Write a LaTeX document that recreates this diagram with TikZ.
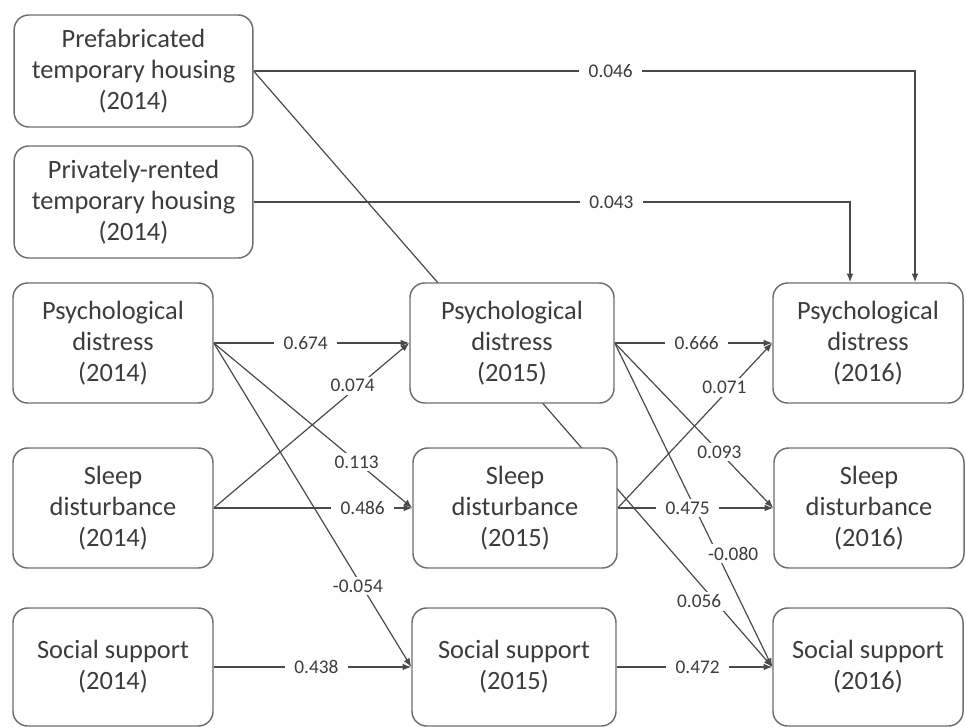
\documentclass[tikz,border=0pt]{standalone}
\usepackage{fontspec}
\setmainfont{Carlito}
\usepackage{tikz}
\usetikzlibrary{arrows.meta,shapes,positioning,backgrounds}

\definecolor{boxgray}{HTML}{6E6E6E}
\definecolor{txtgray}{HTML}{3C3C3C}
\definecolor{linegray}{HTML}{4A4A4A}

\tikzset{
  var/.style={draw=boxgray, line width=1.1pt, rounded corners=11pt, fill=white,
    align=center, text=txtgray, inner sep=0pt,
    font=\fontsize{19.8}{23.25}\selectfont},
  topbox/.style={var, minimum width=179pt, minimum height=84pt},
  leftbox/.style={var, minimum width=150pt, minimum height=90pt},
  midbox/.style={var, minimum width=153pt, minimum height=90pt},
  rightbox/.style={var, minimum width=142.5pt, minimum height=90pt},
  low/.style={minimum height=88.5pt},
  coef/.style={fill=white, text=txtgray, inner xsep=7pt, inner ysep=2pt,
    font=\fontsize{14.5}{17}\selectfont},
  link/.style={draw=linegray, line width=0.9pt, -{Latex[length=6.5pt,width=5pt]}}
}

\begin{document}
\begin{tikzpicture}[x=0.75pt, y=-0.75pt]
\useasboundingbox (0,0) rectangle (966,727);

% 2014
\node[topbox] (prefab) at (133.5,71) {Prefabricated\\temporary housing\\(2014)};
\node[topbox] (private) at (133.5,202) {Privately-rented\\temporary housing\\(2014)};
\node[leftbox] (p14) at (113,343) {Psychological\\distress\\(2014)};
\node[leftbox] (l14) at (113,508) {Sleep\\disturbance\\(2014)};
\node[leftbox, low] (s14) at (113,667) {Social support\\(2014)};

% 2015
\node[midbox] (p15) at (512,343) {Psychological\\distress\\(2015)};
\node[midbox] (l15) at (515,508) {Sleep\\disturbance\\(2015)};
\node[midbox, low] (s15) at (514,667) {Social support\\(2015)};

% 2016
\node[rightbox] (p16) at (868,343) {Psychological\\distress\\(2016)};
\node[rightbox] (l16) at (869,508) {Sleep\\disturbance\\(2016)};
\node[rightbox, low] (s16) at (868,667) {Social support\\(2016)};

\coordinate (inA) at ([xshift=-13.5pt]p16.north);
\coordinate (inB) at ([xshift=35.25pt]p16.north);

\begin{pgfonlayer}{background}
\draw[link] (prefab.east) -| node[coef, pos=0.27] {0.046} (inB);
\draw[link] (private.east) -| node[coef, pos=0.3] {0.043} (inA);
\draw[link] (prefab.east) -- node[coef, pos=0.89, xshift=-12pt] {0.056} (s16.west);

\draw[link] (p14.east) -- node[coef, pos=0.47] {0.674} (p15.west);
\draw[link] (l14.east) -- node[coef, pos=0.71, yshift=4pt] {0.074} (p15.west);
\draw[link] (p14.east) -- node[coef, pos=0.72] {0.113} (l15.west);
\draw[link] (l14.east) -- node[coef, pos=0.75] {0.486} (l15.west);
\draw[link] (p14.east) -- node[coef, pos=0.75, xshift=-3pt] {-0.054} (s15.west);
\draw[link] (s14.east) -- node[coef, pos=0.52] {0.438} (s15.west);

\draw[link] (p15.east) -- node[coef, pos=0.52] {0.666} (p16.west);
\draw[link] (l15.east) -- node[coef, pos=0.69, yshift=5pt] {0.071} (p16.west);
\draw[link] (p15.east) -- node[coef, pos=0.66] {0.093} (l16.west);
\draw[link] (p15.east) -- node[coef, pos=0.65, xshift=12pt] {-0.080} (s16.west);
\draw[link] (l15.east) -- node[coef, pos=0.45] {0.475} (l16.west);
\draw[link] (s15.east) -- node[coef, pos=0.52] {0.472} (s16.west);
\end{pgfonlayer}
\end{tikzpicture}
\end{document}
